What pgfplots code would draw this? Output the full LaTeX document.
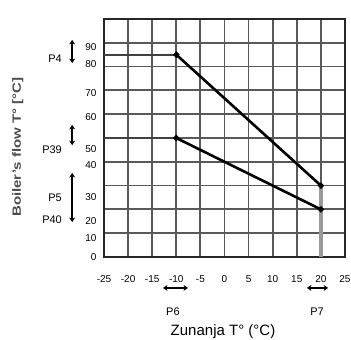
\documentclass[border=0pt]{standalone}
\usepackage{pgfplots}
\pgfplotsset{compat=1.18}
\usepackage{fontspec}
\setmainfont{Liberation Sans}
\usetikzlibrary{arrows.meta}
\begin{document}
\begin{tikzpicture}
\begin{axis}[
  name=main,
  scale only axis,
  width=241pt, height=238pt,
  xmin=-25, xmax=25, ymin=0, ymax=10,
  clip=false,
  axis line style={draw=black!85, line width=1.8pt},
  xtick={-25,-20,...,25},
  xticklabels={{-25},{-20},{-15},{-10},{-5},{0},{5},{10},{15},{20},{25}},
  ytick={0,1,...,10},
  yticklabels={},
  extra y ticks={0,0.8,1.52,2.52,3.87,4.52,5.87,6.88,8.09,8.83},
  extra y tick labels={0,10,20,30,40,50,60,70,80,90},
  extra y tick style={ymajorgrids=false, major tick length=0pt},
  major tick length=0pt,
  grid=major,
  major grid style={draw=black!65, line width=1.8pt},
  tick label style={font=\fontsize{10}{12}\selectfont},
  xticklabel style={anchor=base, yshift=-26pt},
  yticklabel style={anchor=east, xshift=-4pt},
]
% gray band at x = 20
\addplot[draw=black!40, line width=4pt, forget plot] coordinates {(20,0) (20,3)};
% horizontal level segments
\addplot[draw=black!75, line width=1.8pt, forget plot] coordinates {(-25,8.5) (-10,8.5)};
\addplot[draw=black!75, line width=1.8pt, forget plot] coordinates {(-25,5) (-10,5)};
% heating curves
\addplot[black, line width=2.6pt, mark=*, mark size=1.6pt] coordinates {(-10,8.5) (20,3)};
\addplot[black, line width=2.6pt, mark=*, mark size=1.6pt] coordinates {(-10,5) (20,2)};

% side annotations
\def\arr{{Stealth[length=4.5pt,width=6pt]}-{Stealth[length=4.5pt,width=6pt]}}
\draw[\arr, line width=2.4pt, black] (axis cs:-31.6,9.12) -- (axis cs:-31.6,8.15);
\draw[\arr, line width=2.4pt, black] (axis cs:-31.6,5.55) -- (axis cs:-31.6,4.7);
\draw[\arr, line width=2.4pt, black] (axis cs:-31.6,3.53) -- (axis cs:-31.6,1.47);
\draw[\arr, line width=2.4pt, black] (axis cs:-12.76,-1.3) -- (axis cs:-7.57,-1.3);
\draw[\arr, line width=2.4pt, black] (axis cs:17.1,-1.3) -- (axis cs:21.5,-1.3);

\node[anchor=east, font=\fontsize{11}{13}\selectfont, inner sep=0pt] at (axis cs:-33.7,8.32) {P4};
\node[anchor=east, font=\fontsize{11}{13}\selectfont, inner sep=0pt] at (axis cs:-33.7,4.5) {P39};
\node[anchor=east, font=\fontsize{11}{13}\selectfont, inner sep=0pt] at (axis cs:-33.7,2.48) {P5};
\node[anchor=east, font=\fontsize{11}{13}\selectfont, inner sep=0pt] at (axis cs:-33.7,1.55) {P40};
\node[font=\fontsize{11}{13}\selectfont, inner sep=0pt] at (axis cs:-10.7,-2.31) {P6};
\node[font=\fontsize{11}{13}\selectfont, inner sep=0pt] at (axis cs:19.2,-2.31) {P7};

\node[font=\fontsize{15}{17}\selectfont, inner sep=0pt] at (axis cs:-0.31,-3.15) {Zunanja T° (°C)};
\node[rotate=90, font=\fontsize{12}{14}\selectfont\bfseries, inner sep=0pt, text=black!70] at (axis cs:-42.9,4.62) {\scalebox{1.25}[1]{Boiler's flow T° [°C]}};
\end{axis}
\pgfresetboundingbox
\path[use as bounding box] ([xshift=-104pt,yshift=-83pt]main.south west) rectangle ++(351pt,340pt);
\end{tikzpicture}
\end{document}
